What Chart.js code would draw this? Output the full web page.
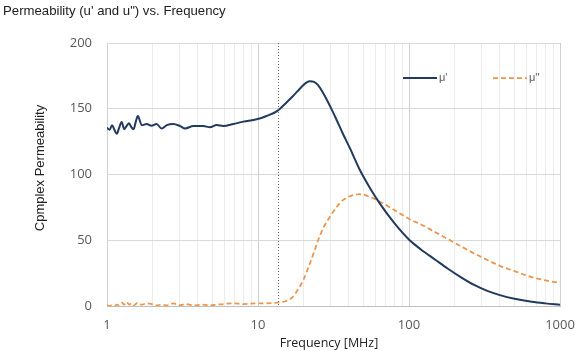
<!DOCTYPE html>
<html>
<head>
<meta charset="utf-8">
<script src="https://cdn.jsdelivr.net/npm/chart.js@4.4.1/dist/chart.umd.min.js"></script>
<style>
  html, body { margin: 0; padding: 0; background: #fff; }
  #wrap { width: 576px; height: 351px; position: relative; }
</style>
</head>
<body>
<div id="wrap"><canvas id="chart" width="576" height="351"></canvas></div>
<script>
const freq = [1, 1.04, 1.08, 1.12, 1.16, 1.2, 1.25, 1.3, 1.35, 1.4, 1.45, 1.5, 1.55, 1.6, 1.7, 1.83, 1.97, 2.13, 2.3, 2.49,
  2.75, 3.04, 3.29, 3.73, 4.34, 4.81, 5.32, 5.89, 6.86, 8.0, 9.8, 11.4, 13.3, 15.5, 17, 18.5, 20, 21, 22, 23.5,
  25, 27, 30, 33, 36.5, 40.6, 47, 55, 64, 80, 101, 120, 150, 180, 220, 270, 330, 400, 500, 650, 800, 1000];
const muReal = [135.5, 134, 137.5, 134, 131, 135, 140, 134.5, 137, 139, 136, 134.5, 140, 144.5, 137.5, 138.4, 137, 138.4, 135, 137.6,
  138.4, 136.9, 135, 136.9, 136.9, 135.9, 137.6, 136.9, 138.4, 140.2, 142, 144.5, 148, 155, 159.5, 164, 168, 170, 171, 170.5,
  168, 162, 152, 142, 131, 120, 104, 90, 78, 63, 50, 43, 35, 28.5, 22, 16, 11.5, 8.3, 5.5, 3.2, 2, 1];
const muImag = [0.5, 0, 0.5, 0, 1, 0.5, 2.5, 1, 3, 1, 2, 0.5, 1.5, 2.5, 1, 2, 1.5, 0.5, 1, 0.5,
  2, 0.5, 1.5, 0.5, 1, 0.5, 1, 1.5, 2, 1.5, 2, 2, 2.5, 4, 7, 13, 20, 26, 32, 41,
  50, 59, 68, 75, 80.5, 83.5, 85, 83, 79.5, 73, 66, 62, 56, 51, 45.5, 40, 35, 30.5, 26.5, 22, 19.5, 17.5];
const seriesNames = ["\u03bc'", "\u03bc''"];
const markerFreq = [13.56];          // dotted reference line
const xLabelTicks = [1, 10, 100, 1000];
const yTickValues = [0, 50, 100, 150, 200];

const NAVY = '#223a5e';
const ORANGE = '#ec9448';

const pts = (ys) => freq.map((f, i) => ({ x: f, y: ys[i] }));

// title, axis titles, dotted marker, in-plot legend
const extras = {
  id: 'extras',
  afterDatasetsDraw(chart) {
    const { ctx, chartArea: a, scales } = chart;
    ctx.save();
    // dotted vertical line
    ctx.strokeStyle = '#666';
    ctx.lineWidth = 1;
    ctx.setLineDash([1, 2]);
    markerFreq.forEach(f => {
      const x = Math.round(scales.x.getPixelForValue(f)) + 0.5;
      ctx.beginPath(); ctx.moveTo(x, a.top); ctx.lineTo(x, a.bottom); ctx.stroke();
    });
    ctx.setLineDash([]);

    // legend
    const ly = a.top + 35;
    const ds = chart.data.datasets;
    const lx = [a.right - 157, a.right - 67];
    ds.forEach((d, i) => {
      ctx.strokeStyle = d.borderColor;
      ctx.lineWidth = d.borderWidth;
      ctx.setLineDash(d.borderDash || []);
      ctx.beginPath(); ctx.moveTo(lx[i], ly); ctx.lineTo(lx[i] + 34, ly); ctx.stroke();
      ctx.setLineDash([]);
      ctx.fillStyle = '#595959';
      ctx.font = '11px "Liberation Sans", Arial, sans-serif';
      ctx.textBaseline = 'middle';
      ctx.textAlign = 'left';
      ctx.fillText(d.label, lx[i] + 36, ly);
    });
    ctx.restore();
  },
  afterDraw(chart) {
    const { ctx } = chart;
    ctx.save();
    ctx.fillStyle = '#222';
    ctx.font = '13.2px "Liberation Sans", Arial, sans-serif';
    ctx.textBaseline = 'alphabetic';
    ctx.textAlign = 'left';
    ctx.fillText('Permeability (u\' and u") vs. Frequency', 3, 15);

    ctx.fillStyle = '#222';
    ctx.font = '12.5px "Open Sans", sans-serif';
    ctx.textAlign = 'center';
    ctx.textBaseline = 'middle';
    ctx.fillText('Frequency [MHz]', 329, 343);

    ctx.translate(40, 168);
    ctx.rotate(-Math.PI / 2);
    ctx.font = '13px "Liberation Sans", Arial, sans-serif';
    ctx.fillText('Cpmplex Permeability', 0, 0);
    ctx.restore();
  }
};

new Chart(document.getElementById('chart'), {
  type: 'line',
  data: {
    datasets: [
      { label: seriesNames[0], data: pts(muReal), borderColor: NAVY, borderWidth: 2, pointRadius: 0,
        cubicInterpolationMode: 'monotone', fill: false },
      { label: seriesNames[1], data: pts(muImag), borderColor: ORANGE, borderWidth: 1.75, borderDash: [5, 3],
        pointRadius: 0, cubicInterpolationMode: 'monotone', fill: false }
    ]
  },
  options: {
    responsive: false,
    animation: false,
    events: [],
    layout: { padding: { left: 67, right: 16, top: 43, bottom: 0 } },
    plugins: { legend: { display: false }, tooltip: { enabled: false } },
    scales: {
      x: {
        type: 'logarithmic',
        min: 1,
        max: 1000,
        afterBuildTicks: s => {
          const t = [];
          for (let d = 1; d < 1000; d *= 10) for (let k = 1; k < 10; k++) t.push({ value: k * d });
          t.push({ value: 1000 });
          s.ticks = t;
        },
        afterFit: s => { s.height = 45; s.paddingLeft = 0; s.paddingRight = 0; },
        ticks: {
          autoSkip: false, maxRotation: 0, padding: 11,
          color: '#595959', font: { family: '"Open Sans", sans-serif', size: 13 },
          callback: v => xLabelTicks.includes(v) ? String(v) : ''
        },
        grid: {
          drawTicks: false,
          color: c => xLabelTicks.includes(c.tick && c.tick.value) ? '#d0d0d0' : '#ececec'
        },
        border: { display: true, color: '#bfbfbf' }
      },
      y: {
        min: 0,
        max: 200,
        afterBuildTicks: s => { s.ticks = yTickValues.map(v => ({ value: v })); },
        afterFit: s => { s.width = 40; s.paddingTop = 0; s.paddingBottom = 0; },
        ticks: { padding: 15, color: '#595959', font: { family: '"Open Sans", sans-serif', size: 13 } },
        grid: { drawTicks: false, color: '#d9d9d9' },
        border: { display: false }
      }
    }
  },
  plugins: [extras]
});
</script>
</body>
</html>
